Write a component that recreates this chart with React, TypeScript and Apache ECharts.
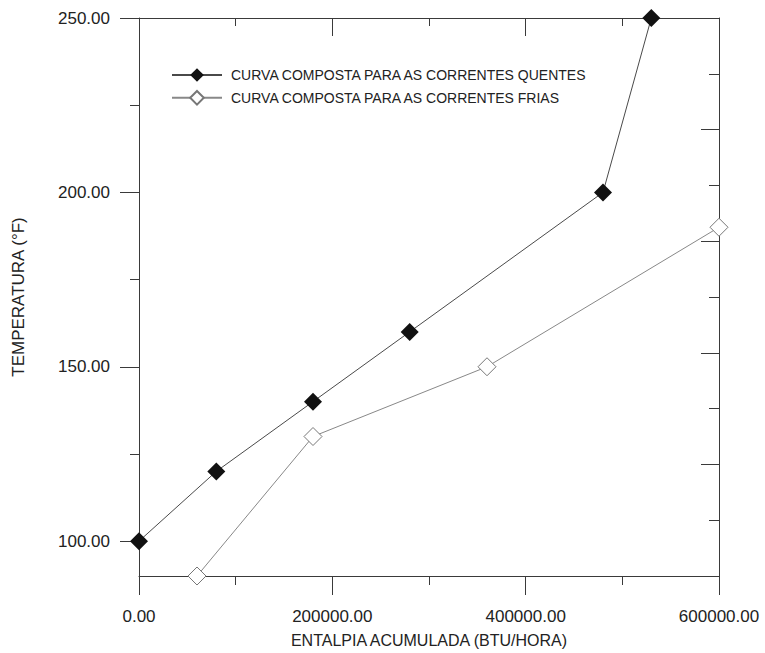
import React, { useEffect, useRef } from "react";
import * as echarts from "echarts";

// Composite curves: accumulated enthalpy (BTU/h) vs temperature (°F)
const hotEnthalpy = [0, 80000, 180000, 280000, 480000, 530000];
const hotTemperature = [100, 120, 140, 160, 200, 250];
const coldEnthalpy = [60000, 180000, 360000, 600000];
const coldTemperature = [90, 130, 150, 190];

const hotName = "CURVA COMPOSTA PARA AS CORRENTES QUENTES";
const coldName = "CURVA COMPOSTA PARA AS CORRENTES FRIAS";
const xTitle = "ENTALPIA ACUMULADA (BTU/HORA)";
const yTitle = "TEMPERATURA (°F)";

const yMajorTicks = [100, 150, 200, 250];
const yMinorTicks = [125, 175, 225];

const FONT = "'Liberation Sans', Arial, sans-serif";
const AXIS = "#3a3a3a";

export default function App() {
  const ref = useRef<HTMLDivElement>(null);

  useEffect(() => {
    if (!ref.current) return;
    const chart = echarts.init(ref.current, undefined, { renderer: "svg" });

    const hotData = hotEnthalpy.map((x, i) => [x, hotTemperature[i]]);
    const coldData = coldEnthalpy.map((x, i) => [x, coldTemperature[i]]);

    chart.setOption({
      animation: false,
      backgroundColor: "#ffffff",
      grid: { left: 139, right: 46, top: 18, bottom: 70 },
      legend: {
        orient: "vertical",
        left: 166,
        top: 63,
        itemWidth: 50,
        itemHeight: 17,
        itemGap: 8,
        textStyle: {
          fontFamily: FONT,
          fontSize: 14,
          color: "#222",
          padding: [0, 0, 0, 4],
        },
        data: [hotName, coldName],
      },
      xAxis: [
        {
          type: "value",
          position: "bottom",
          min: 0,
          max: 600000,
          interval: 200000,
          name: xTitle,
          nameLocation: "middle",
          nameGap: 56,
          nameTextStyle: { fontFamily: FONT, fontSize: 16, color: "#222" },
          axisLine: { show: true, lineStyle: { color: AXIS, width: 1 } },
          axisTick: { show: true, length: 19, lineStyle: { color: AXIS } },
          minorTick: { show: true, splitNumber: 2, length: 9, lineStyle: { color: AXIS } },
          axisLabel: {
            fontFamily: FONT,
            fontSize: 17,
            color: "#222",
            margin: 32,
            formatter: (v: number) => v.toFixed(2),
          },
          splitLine: { show: false },
          minorSplitLine: { show: false },
        },
        {
          type: "value",
          position: "top",
          min: 0,
          max: 600000,
          interval: 200000,
          axisLine: { show: true, lineStyle: { color: AXIS, width: 1 } },
          axisTick: { show: true, inside: true, length: 18, lineStyle: { color: AXIS } },
          minorTick: { show: true, splitNumber: 2, length: 8, lineStyle: { color: AXIS } },
          axisLabel: { show: false },
          splitLine: { show: false },
        },
      ],
      yAxis: [
        {
          type: "value",
          position: "left",
          min: 90,
          max: 250,
          name: yTitle,
          nameLocation: "middle",
          nameRotate: 90,
          nameGap: 112,
          nameTextStyle: { fontFamily: FONT, fontSize: 17, color: "#222" },
          axisLine: { show: true, lineStyle: { color: AXIS, width: 1 } },
          axisTick: {
            show: true,
            length: 19,
            customValues: yMajorTicks,
            lineStyle: { color: AXIS },
          },
          axisLabel: {
            fontFamily: FONT,
            fontSize: 17,
            color: "#222",
            margin: 29,
            customValues: yMajorTicks,
            formatter: (v: number) => v.toFixed(2),
          },
          splitLine: { show: false },
        },
        {
          type: "value",
          position: "left",
          min: 90,
          max: 250,
          axisLine: { show: false },
          axisTick: {
            show: true,
            length: 9,
            customValues: yMinorTicks,
            lineStyle: { color: AXIS },
          },
          axisLabel: { show: false },
          splitLine: { show: false },
        },
        {
          type: "value",
          position: "right",
          min: 0,
          max: 160,
          interval: 32,
          axisLine: { show: true, lineStyle: { color: AXIS, width: 1 } },
          axisTick: { show: true, inside: true, length: 18, lineStyle: { color: AXIS } },
          minorTick: { show: true, splitNumber: 2, length: 10, lineStyle: { color: AXIS } },
          axisLabel: { show: false },
          splitLine: { show: false },
        },
      ],
      series: [
        {
          name: hotName,
          type: "line",
          xAxisIndex: 0,
          yAxisIndex: 0,
          data: hotData,
          clip: false,
          symbol: "diamond",
          symbolSize: 18,
          lineStyle: { color: "#4a4a4a", width: 1 },
          itemStyle: { color: "#111111", borderColor: "#111111", borderWidth: 0 },
        },
        {
          name: coldName,
          type: "line",
          xAxisIndex: 0,
          yAxisIndex: 0,
          data: coldData,
          clip: false,
          symbol: "diamond",
          symbolSize: 18,
          lineStyle: { color: "#888888", width: 1 },
          itemStyle: { color: "#ffffff", borderColor: "#777777", borderWidth: 1 },
        },
      ],
    });

    return () => chart.dispose();
  }, []);

  return (
    <div
      ref={ref}
      style={{ position: "fixed", left: 0, top: 0, width: 765, height: 653, background: "#fff" }}
    />
  );
}
